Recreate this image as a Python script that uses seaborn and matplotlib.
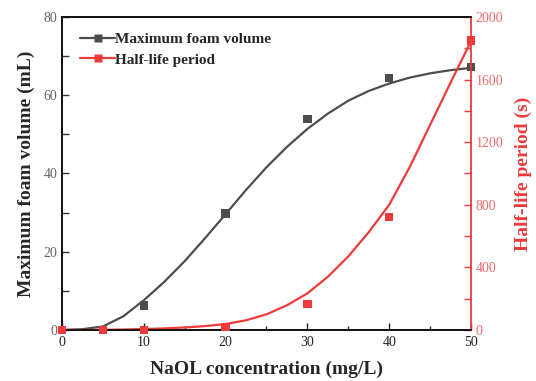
import matplotlib
matplotlib.use("Agg")
import matplotlib.pyplot as plt
from matplotlib.lines import Line2D
from matplotlib.ticker import MultipleLocator
import seaborn as sns
import pandas as pd

# measured data
conc = [0, 5, 10, 20, 30, 40, 50]
foam_volume = [0, 0, 6.3, 29.8, 54.0, 64.4, 67.3]
half_life = [0, 0, 0, 20, 165, 720, 1850]

# fitted curves
fit_x = [0, 2.5, 5, 7.5, 10, 12.5, 15, 17.5, 20, 22.5, 25, 27.5, 30, 32.5, 35, 37.5, 40, 42.5, 45, 47.5, 50]
foam_fit = [0, 0.2, 0.9, 3.5, 7.6, 12.3, 17.6, 23.5, 29.6, 35.8, 41.6, 46.8, 51.4, 55.3, 58.6, 61.1, 63.0, 64.5, 65.6, 66.4, 67.0]
half_fit = [0, 0, 1, 3, 6, 10, 16, 25, 38, 62, 100, 158, 234, 340, 470, 625, 800, 1040, 1310, 1580, 1845]

GRAY = "#4d4d4d"
RED = "#ee3a3a"

sns.set_style("ticks")
plt.rcParams["font.family"] = ["Liberation Serif", "DejaVu Serif"]
plt.rcParams["xtick.direction"] = "in"
plt.rcParams["ytick.direction"] = "in"

fig = plt.figure(figsize=(5.36, 3.81), dpi=100)
ax = fig.add_axes([0.1157, 0.1339, 0.7630, 0.8215])
ax2 = ax.twinx()

df_pts = pd.DataFrame({"x": conc, "foam": foam_volume, "half": half_life})
df_fit = pd.DataFrame({"x": fit_x, "foam": foam_fit, "half": half_fit})

sns.lineplot(data=df_fit, x="x", y="foam", ax=ax, color=GRAY, lw=1.6, legend=False)
sns.scatterplot(data=df_pts, x="x", y="foam", ax=ax, color=GRAY, marker="s", s=36,
                edgecolor="none", legend=False, zorder=3, clip_on=False)
sns.lineplot(data=df_fit, x="x", y="half", ax=ax2, color=RED, lw=1.6, legend=False)
sns.scatterplot(data=df_pts, x="x", y="half", ax=ax2, color=RED, marker="s", s=36,
                edgecolor="none", legend=False, zorder=3, clip_on=False)

ax.set_xlim(0, 50)
ax.set_ylim(0, 80)
ax2.set_ylim(0, 2000)

ax.xaxis.set_major_locator(MultipleLocator(10))
ax.xaxis.set_minor_locator(MultipleLocator(5))
ax.yaxis.set_major_locator(MultipleLocator(20))
ax.yaxis.set_minor_locator(MultipleLocator(10))
ax2.yaxis.set_major_locator(MultipleLocator(400))
ax2.yaxis.set_minor_locator(MultipleLocator(200))

ax.tick_params(axis="x", which="major", length=5, width=1, colors="#222222", labelsize=10, pad=4)
ax.tick_params(axis="x", which="minor", length=3, width=1, colors="#222222")
ax.tick_params(axis="y", which="both", length=5, width=1, colors="#333333", labelcolor="#666666", labelsize=10)
ax2.tick_params(axis="y", which="both", length=5, width=1, colors=RED, labelcolor="#f26b6b", labelsize=10)

ax.set_xlabel("NaOL concentration (mg/L)", fontsize=14, fontweight="bold", labelpad=9)
ax.set_ylabel("Maximum foam volume (mL)", fontsize=14, fontweight="bold", labelpad=6)
ax2.set_ylabel("Half-life period (s)", fontsize=14, fontweight="bold", color=RED, labelpad=8)

for a in (ax, ax2):
    for s in a.spines.values():
        s.set_linewidth(1.3)
        s.set_color("#111111")
ax2.spines["right"].set_color(RED)
ax.spines["right"].set_visible(False)

handles = [
    Line2D([], [], color=GRAY, lw=1.6, marker="s", markersize=5.5, markeredgecolor="none"),
    Line2D([], [], color=RED, lw=1.6, marker="s", markersize=5.5, markeredgecolor="none"),
]
ax.legend(handles, ["Maximum foam volume", "Half-life period"], loc="upper left",
          bbox_to_anchor=(0.018, 0.985), frameon=False,
          prop={"weight": "bold", "size": 11}, handlelength=2.3,
          handletextpad=0.0, labelspacing=0.45, borderaxespad=0.3)

fig.savefig("out.png", dpi=100)
